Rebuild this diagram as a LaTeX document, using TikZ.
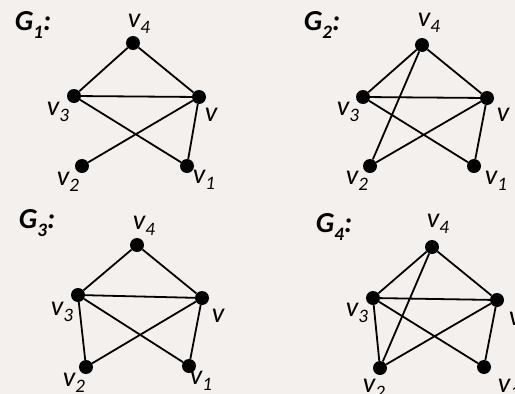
\documentclass[tikz,border=0pt]{standalone}
\usepackage{fontspec}
\setmainfont{Carlito}
\newcommand\vsub[1]{\raisebox{-0.22em}{\fontsize{19}{19}\selectfont #1}}
\newcommand\gsub[1]{\raisebox{-0.25em}{\fontsize{19}{19}\selectfont #1}}
\begin{document}
\begin{tikzpicture}[x=1pt,y=-1pt,
  vtx/.style={circle,fill=black,inner sep=0pt,minimum size=14pt},
  edge/.style={line width=1.8pt},
  lbl/.style={font=\fontsize{28}{28}\selectfont\itshape,inner sep=0pt},
  glbl/.style={font=\fontsize{29}{29}\selectfont\bfseries\itshape,inner sep=0pt}]
\definecolor{bgc}{RGB}{244,240,237}
\fill[bgc] (0,0) rectangle (515,394);
\useasboundingbox (0,0) rectangle (515,394);
% ---------- G1
\node[glbl] (g1) at (33,25) {G\gsub{1}:};
\node[vtx] (a4) at (133,43) {};
\node[vtx] (a3) at (74,96) {};
\node[vtx] (a0) at (199,97) {};
\node[vtx] (a2) at (82,166) {};
\node[vtx] (a1) at (187,166) {};
\node[lbl] (la4) at (139,24) {v\vsub{4}};
\node[lbl] (la3) at (58,112) {v\vsub{3}};
\node[lbl] (la0) at (211,115) {v};
\node[lbl] (la2) at (68,182) {v\vsub{2}};
\node[lbl] (la1) at (204,180) {v\vsub{1}};
\draw[edge] (a4)--(a3) (a4)--(a0) (a3)--(a0) (a3)--(a1) (a0)--(a2) (a0)--(a1);
% ---------- G2
\node[glbl] (g2) at (322,25) {G\gsub{2}:};
\node[vtx] (b4) at (422,45) {};
\node[vtx] (b3) at (363,97) {};
\node[vtx] (b0) at (487,98) {};
\node[vtx] (b2) at (370,166) {};
\node[vtx] (b1) at (474,166) {};
\node[lbl] (lb4) at (429,23) {v\vsub{4}};
\node[lbl] (lb3) at (348,112) {v\vsub{3}};
\node[lbl] (lb0) at (503,115) {v};
\node[lbl] (lb2) at (357,181) {v\vsub{2}};
\node[lbl] (lb1) at (496,181) {v\vsub{1}};
\draw[edge] (b4)--(b3) (b4)--(b0) (b4)--(b2) (b3)--(b0) (b3)--(b1) (b0)--(b2) (b0)--(b1);
% ---------- G3
\node[glbl] (g3) at (37,223) {G\gsub{3}:};
\node[vtx] (c4) at (137,245) {};
\node[vtx] (c3) at (78,295) {};
\node[vtx] (c0) at (202,298) {};
\node[vtx] (c2) at (86,367) {};
\node[vtx] (c1) at (189,366) {};
\node[lbl] (lc4) at (144,226) {v\vsub{4}};
\node[lbl] (lc3) at (62,312) {v\vsub{3}};
\node[lbl] (lc0) at (218,316) {v};
\node[lbl] (lc2) at (74,383) {v\vsub{2}};
\node[lbl] (lc1) at (201,381) {v\vsub{1}};
\draw[edge] (c4)--(c3) (c4)--(c0) (c3)--(c0) (c3)--(c2) (c3)--(c1) (c0)--(c2) (c0)--(c1);
% ---------- G4
\node[glbl] (g4) at (334,227) {G\gsub{4}:};
\node[vtx] (d4) at (432,247) {};
\node[vtx] (d3) at (373,298) {};
\node[vtx] (d0) at (497,300) {};
\node[vtx] (d2) at (380,368) {};
\node[vtx] (d1) at (484,367) {};
\node[lbl] (ld4) at (438,224) {v\vsub{4}};
\node[lbl] (ld3) at (357,313) {v\vsub{3}};
\node[lbl] (ld0) at (515,319) {v};
\node[lbl] (ld2) at (374,389) {v\vsub{2}};
\node[lbl] (ld1) at (509,389) {v\vsub{1}};
\draw[edge] (d4)--(d3) (d4)--(d0) (d4)--(d2) (d3)--(d0) (d3)--(d2) (d3)--(d1) (d0)--(d2) (d0)--(d1);
\end{tikzpicture}
\end{document}
